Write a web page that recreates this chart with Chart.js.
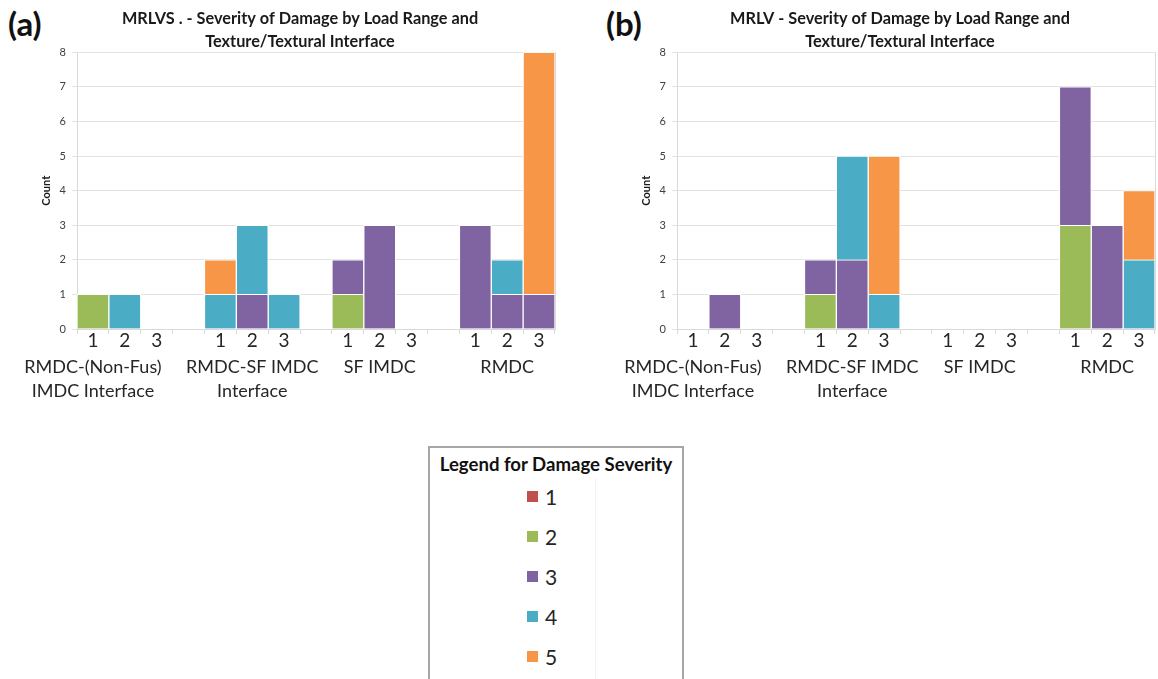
<!DOCTYPE html>
<html>
<head>
<meta charset="utf-8">
<script src="https://cdn.jsdelivr.net/npm/chart.js@4.4.1/dist/chart.umd.min.js"></script>
<style>
  html, body { margin: 0; padding: 0; background: #fff; overflow: hidden; }
  body { width: 1158px; height: 679px; position: relative; font-family: Lato, "Open Sans", sans-serif; }
  .panel { position: absolute; top: 0; width: 580px; height: 414px; }
  .tag { position: absolute; top: 3px; font: bold 33px Lato, sans-serif; color: #111; }
  .legend-box {
    position: absolute; left: 428px; top: 446px; width: 252px; height: 240px;
    border: 2px solid #a6a6a6; box-sizing: content-box; background: #fff;
  }
  .legend-box h3 {
    margin: 0; position: absolute; left: 0; right: 0; top: 5px; text-align: center;
    font: bold 18.6px Lato, sans-serif; color: #111;
  }
  .legend-box .divider { position: absolute; left: 165px; top: 30px; bottom: 0; width: 1px; background: #f2f2f2; }
  .legend-item { position: absolute; left: 97px; height: 24px; display: flex; align-items: center; font: 21px Lato, sans-serif; color: #262626; }
  .legend-item i { display: inline-block; width: 11px; height: 11px; margin-right: 7px; }
</style>
</head>
<body>
<div class="tag" style="left:8px">(a)</div>
<div class="tag" style="left:606px">(b)</div>
<div class="panel" style="left:0"><canvas id="chartA" width="580" height="414"></canvas></div>
<div class="panel" style="left:600px"><canvas id="chartB" width="580" height="414"></canvas></div>
<div class="legend-box" id="legend"><h3>Legend for Damage Severity</h3><div class="divider"></div></div>

<script>
// Load ranges within each texture group; blank slots separate the groups
const loadLabels = ['1', '2', '3', '', '1', '2', '3', '', '1', '2', '3', '', '1', '2', '3'];
// Group names sit under the slot where each one is centred
const groupLabels = [
  ['RMDC-(Non-Fus)', 'IMDC Interface'], '', '', '', '',
  ['RMDC-SF IMDC', 'Interface'], '', '', '',
  'SF IMDC', '', '', '',
  'RMDC', ''
];
const severityLevels = ['1', '2', '3', '4', '5'];
const severityColors = ['#C0504D', '#9BBB59', '#8064A2', '#4BACC6', '#F79646'];
const yTicks = [0, 1, 2, 3, 4, 5, 6, 7, 8];

// MRLVS counts per severity level
const mrlvsSev1 = [0, 0, 0, 0, 0, 0, 0, 0, 0, 0, 0, 0, 0, 0, 0];
const mrlvsSev2 = [1, 0, 0, 0, 0, 0, 0, 0, 1, 0, 0, 0, 0, 0, 0];
const mrlvsSev3 = [0, 0, 0, 0, 0, 1, 0, 0, 1, 3, 0, 0, 3, 1, 1];
const mrlvsSev4 = [0, 1, 0, 0, 1, 2, 1, 0, 0, 0, 0, 0, 0, 1, 0];
const mrlvsSev5 = [0, 0, 0, 0, 1, 0, 0, 0, 0, 0, 0, 0, 0, 0, 7];

// MRLV counts per severity level
const mrlvSev1 = [0, 0, 0, 0, 0, 0, 0, 0, 0, 0, 0, 0, 0, 0, 0];
const mrlvSev2 = [0, 0, 0, 0, 1, 0, 0, 0, 0, 0, 0, 0, 3, 0, 0];
const mrlvSev3 = [0, 1, 0, 0, 1, 2, 0, 0, 0, 0, 0, 0, 4, 3, 0];
const mrlvSev4 = [0, 0, 0, 0, 0, 3, 1, 0, 0, 0, 0, 0, 0, 0, 2];
const mrlvSev5 = [0, 0, 0, 0, 0, 0, 4, 0, 0, 0, 0, 0, 0, 0, 2];

const FONT = 'Lato, "Open Sans", sans-serif';

function buildDatasets(series) {
  return series.map((values, i) => ({
    label: severityLevels[i],
    data: values.map(v => (v === 0 ? null : v)),
    backgroundColor: severityColors[i],
    borderColor: '#ffffff',
    borderWidth: 1,
    barPercentage: 1,
    categoryPercentage: 1,
    stack: 'severity'
  }));
}

function makeChart(canvasId, titleLines, series) {
  return new Chart(document.getElementById(canvasId), {
    type: 'bar',
    data: { labels: loadLabels, datasets: buildDatasets(series) },
    options: {
      responsive: false,
      animation: false,
      events: [],
      layout: { padding: { left: 45, right: 25, top: 0, bottom: 3 } },
      plugins: {
        legend: { display: false },
        tooltip: { enabled: false },
        title: {
          display: true,
          text: titleLines,
          color: '#1a1a1a',
          font: { family: FONT, size: 16.3, weight: 'bold', lineHeight: 1.36 },
          padding: { top: 8, bottom: 0 }
        }
      },
      scales: {
        x: {
          type: 'category',
          stacked: true,
          offset: true,
          grid: { display: true, drawOnChartArea: false, offset: true, color: '#d9d9d9', tickLength: 5 },
          border: { display: true, color: '#d9d9d9' },
          ticks: {
            autoSkip: false, maxRotation: 0, minRotation: 0, padding: -3,
            color: '#262626', font: { family: FONT, size: 19, lineHeight: 1 }
          }
        },
        groups: {
          type: 'category',
          position: 'bottom',
          labels: groupLabels,
          offset: true,
          grid: { display: false, drawTicks: false },
          border: { display: false },
          ticks: {
            autoSkip: false, maxRotation: 0, minRotation: 0, padding: 8,
            color: '#262626', font: { family: FONT, size: 18, lineHeight: 1.333 }
          }
        },
        y: {
          stacked: true,
          min: 0,
          max: 8,
          afterFit: s => { s.width = 32; },
          afterBuildTicks: s => { s.ticks = yTicks.map(v => ({ value: v })); },
          grid: { color: '#e3e3e3', tickLength: 5 },
          border: { display: true, color: '#d9d9d9' },
          ticks: { padding: 6, color: '#404040', font: { family: FONT, size: 11 } },
          title: {
            display: true, text: 'Count', color: '#1a1a1a',
            font: { family: FONT, size: 11, weight: 'bold' }, padding: { top: -5, bottom: 0 }
          }
        },
        edge: {
          position: 'right',
          min: 0, max: 8,
          grid: { display: false, drawTicks: false },
          border: { display: true, color: '#d9d9d9' },
          ticks: { display: false }
        }
      }
    }
  });
}

makeChart('chartA',
  ['MRLVS . - Severity of Damage by Load Range and', 'Texture/Textural Interface'],
  [mrlvsSev1, mrlvsSev2, mrlvsSev3, mrlvsSev4, mrlvsSev5]);

makeChart('chartB',
  ['MRLV - Severity of Damage by Load Range and', 'Texture/Textural Interface'],
  [mrlvSev1, mrlvSev2, mrlvSev3, mrlvSev4, mrlvSev5]);

// Legend entries for the severity levels
const legend = document.getElementById('legend');
severityLevels.forEach((lvl, i) => {
  const item = document.createElement('div');
  item.className = 'legend-item';
  item.style.top = (36 + i * 40) + 'px';
  item.innerHTML = '<i style="background:' + severityColors[i] + '"></i>' + lvl;
  legend.appendChild(item);
});
</script>
</body>
</html>
